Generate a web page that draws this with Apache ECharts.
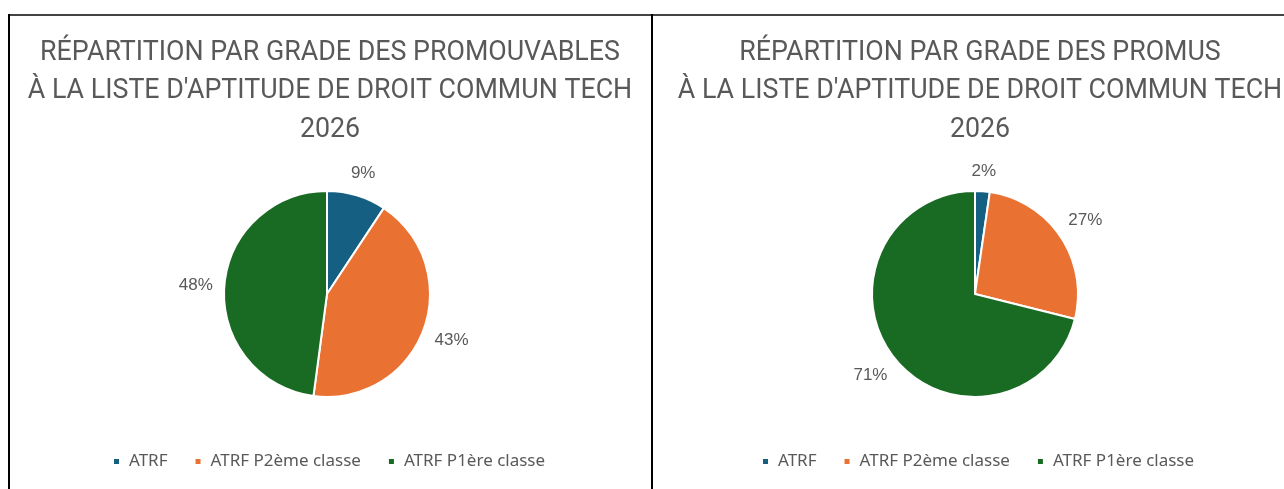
<!DOCTYPE html>
<html>
<head>
<meta charset="utf-8">
<script src="https://cdn.jsdelivr.net/npm/echarts@6/dist/echarts.min.js"></script>
<style>
  html, body { margin: 0; padding: 0; background: #fff; }
  #chart { width: 1284px; height: 489px; }
</style>
</head>
<body>
<div id="chart"></div>
<script>
const grades = ['ATRF', 'ATRF P2ème classe', 'ATRF P1ère classe'];
const promouvables = [9.3, 42.8, 47.9];
const promus = [2.3, 26.6, 71.1];
const titreGauche = 'RÉPARTITION PAR GRADE DES PROMOUVABLES\nÀ LA LISTE D\'APTITUDE DE DROIT COMMUN TECH\n2026';
const titreDroite = 'RÉPARTITION PAR GRADE DES PROMUS\nÀ LA LISTE D\'APTITUDE DE DROIT COMMUN TECH\n2026';
const couleurs = ['#156082', '#E97132', '#196B24'];

const gris = '#595959';
const CY = 294;
const R = 103;

function makeTitle (text, x) {
  return {
    text: text,
    left: x,
    top: 29,
    textAlign: 'center',
    textStyle: {
      color: gris,
      fontFamily: 'Roboto',
      fontWeight: 'normal',
      fontSize: 26.8,
      lineHeight: 38.5
    }
  };
}

function makeLegend (x) {
  return {
    left: x,
    top: 453,
    padding: 0,
    itemWidth: 7,
    itemHeight: 7,
    itemGap: 26,
    icon: 'rect',
    selectedMode: false,
    data: grades,
    textStyle: {
      color: gris,
      fontFamily: 'Noto Sans',
      fontSize: 17,
      padding: [0, 0, 0, 4]
    }
  };
}

// étiquettes "extérieur" façon Excel : le bord de la boîte touche un cercle un peu plus grand
function outsideEnd (values, cx) {
  const total = values.reduce((a, b) => a + b, 0);
  return function (params) {
    let before = 0;
    for (let i = 0; i < params.dataIndex; i++) before += values[i];
    const mid = (before + values[params.dataIndex] / 2) / total * Math.PI * 2;
    const dx = Math.sin(mid);
    const dy = -Math.cos(mid);
    const w = params.labelRect.width;
    const h = params.labelRect.height;
    const d = R + 11 + Math.abs(dx) * w / 2 + Math.abs(dy) * h / 2;
    return {
      x: cx + dx * d,
      y: CY + dy * d,
      align: 'center',
      verticalAlign: 'middle'
    };
  };
}

function makePie (values, cx) {
  return {
    type: 'pie',
    center: [cx, CY],
    radius: R,
    startAngle: 90,
    clockwise: true,
    avoidLabelOverlap: false,
    data: values.map((v, i) => ({ name: grades[i], value: v })),
    itemStyle: {
      borderColor: '#fff',
      borderWidth: 2
    },
    label: {
      show: true,
      position: 'outside',
      formatter: (p) => Math.round(p.percent) + '%',
      color: gris,
      fontFamily: 'Liberation Sans',
      fontSize: 17
    },
    labelLine: {
      show: false,
      length: 8,
      length2: 0
    },
    labelLayout: outsideEnd(values, cx),
    emphasis: { disabled: true }
  };
}

let myChart = echarts.init(document.getElementById('chart'));
myChart.setOption({
  animation: false,
  color: couleurs,
  title: [makeTitle(titreGauche, 325), makeTitle(titreDroite, 975)],
  legend: [makeLegend(112), makeLegend(761)],
  series: [makePie(promouvables, 327), makePie(promus, 975)],
  graphic: [
    { type: 'line', shape: { x1: 8, y1: 15, x2: 1284, y2: 15 }, style: { stroke: '#444', lineWidth: 2 } },
    { type: 'line', shape: { x1: 9, y1: 14, x2: 9, y2: 489 }, style: { stroke: '#000', lineWidth: 2 } },
    { type: 'line', shape: { x1: 652, y1: 14, x2: 652, y2: 489 }, style: { stroke: '#000', lineWidth: 2 } }
  ]
});
</script>
</body>
</html>
